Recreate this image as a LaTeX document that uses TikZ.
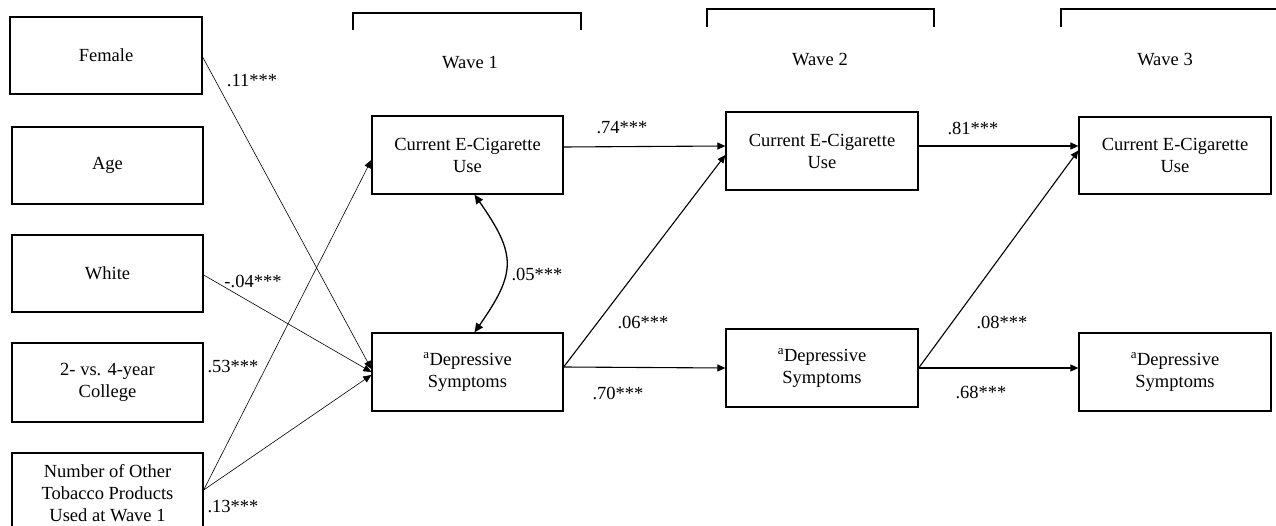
\documentclass[tikz,border=0pt]{standalone}
\usepackage{fontspec}
\setmainfont{Liberation Serif}
\usetikzlibrary{arrows.meta}
\begin{document}
\begin{tikzpicture}[x=1pt,y=-1pt,
  box/.style={draw, line width=1.3pt, rectangle, align=center, inner sep=0pt,
    font=\fontsize{18.5}{22}\selectfont},
  lbl/.style={inner sep=0pt, font=\fontsize{18.5}{22}\selectfont},
  thin arrow/.style={line width=0.6pt, -{Triangle[length=8pt,width=7pt]}},
  thick arrow/.style={line width=1.1pt, -{Triangle[length=8pt,width=7pt]}},
  bracket/.style={line width=1.2pt}]
\useasboundingbox (0,0) rectangle (1276,526);
% left covariates
\node[box, minimum width=192pt, minimum height=77pt] (female) at (106,55.5) {Female};
\node[box, minimum width=191pt, minimum height=77pt] (age) at (107.5,165.5) {Age};
\node[box, minimum width=191pt, minimum height=77pt] (white) at (107.5,273.5) {White};
\node[box, minimum width=191pt, minimum height=79pt] (college) at (107.5,382.5) {2- vs. 4-year\\College};
\node[box, minimum width=191pt, minimum height=80pt] (other) at (107.5,493) {Number of Other\\Tobacco Products\\Used at Wave 1};
% wave brackets
\draw[bracket] (353,30) -- (353,13) -- (581,13) -- (581,30);
\draw[bracket] (707,27) -- (707,9) -- (934,9) -- (934,27);
\draw[bracket] (1061,27) -- (1061,9) -- (1280,9);
\node[lbl] (w1) at (470,63) {Wave 1};
\node[lbl] (w2) at (820,60) {Wave 2};
\node[lbl] (w3) at (1165,60) {Wave 3};
% main boxes
\node[box, minimum width=191pt, minimum height=78pt] (cw1) at (467.5,155) {Current E-Cigarette\\Use};
\node[box, minimum width=191pt, minimum height=78pt] (dw1) at (467.5,372) {\textsuperscript{a}Depressive\\Symptoms};
\node[box, minimum width=192pt, minimum height=78pt] (cw2) at (822,151) {Current E-Cigarette\\Use};
\node[box, minimum width=192pt, minimum height=78pt] (dw2) at (822,368) {\textsuperscript{a}Depressive\\Symptoms};
\node[box, minimum width=192pt, minimum height=77pt] (cw3) at (1175,155.5) {Current E-Cigarette\\Use};
\node[box, minimum width=192pt, minimum height=78pt] (dw3) at (1175,372) {\textsuperscript{a}Depressive\\Symptoms};
% covariate paths
\draw[thin arrow] ([yshift=-1.5pt]female.east) -- ([yshift=3pt]dw1.west);
\draw[thin arrow] ([yshift=-1.5pt]white.east) -- (dw1.west);
\draw[thin arrow] ([yshift=3pt]other.east) -- ([yshift=-5pt]cw1.west);
\draw[thin arrow] ([yshift=3pt]other.east) -- ([yshift=-3pt]dw1.west);
\node[lbl] (l11) at (252,81) {.11***};
\node[lbl] (l04) at (253,281) {-.04***};
\node[lbl] (l53) at (233,367) {.53***};
\node[lbl] (l13) at (233,507) {.13***};
% covariance
\draw[line width=1.3pt, {Triangle[length=9pt,width=8pt]}-{Triangle[length=9pt,width=8pt]}]
  ([xshift=7pt]cw1.south) .. controls +(42,60) and +(42,-60) .. ([xshift=7pt]dw1.north);
\node[lbl] (l05) at (537,274) {.05***};
% wave 1 -> wave 2
\draw[thick arrow] ([yshift=8pt]cw1.east) -- ([yshift=5pt]cw2.west);
\draw[thick arrow] ([yshift=5pt]dw1.east) -- (dw2.west);
\draw[thick arrow] ([yshift=5pt]dw1.east) -- ([yshift=-4pt]cw2.west);
\node[lbl] (l74) at (622,128) {.74***};
\node[lbl] (l70) at (618,393) {.70***};
\node[lbl] (l06) at (643,322) {.06***};
% wave 2 -> wave 3
\draw[thick arrow] ([yshift=5pt]cw2.east) -- ([yshift=9.5pt]cw3.west);
\draw[thick arrow] (dw2.east) -- ([yshift=4pt]dw3.west);
\draw[thick arrow] (dw2.east) -- ([yshift=5pt]cw3.west);
\node[lbl] (l81) at (973,128) {.81***};
\node[lbl] (l68) at (981,392) {.68***};
\node[lbl] (l08) at (1002,322) {.08***};
\end{tikzpicture}
\end{document}
